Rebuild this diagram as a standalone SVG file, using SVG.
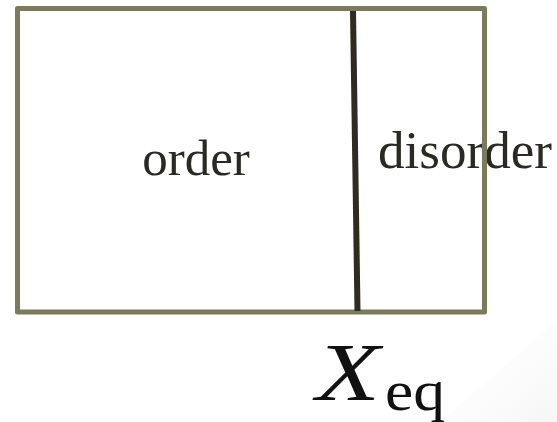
<svg xmlns="http://www.w3.org/2000/svg" width="557" height="422" viewBox="0 0 557 422">
<defs>
<style>
.lbl{font-family:"Liberation Serif","Times New Roman",serif;fill:#2b2a22;}
.frame{fill:none;stroke:#7b7a5a;stroke-width:5;stroke-linejoin:round;}
.divider{stroke:#302b20;stroke-width:6;}
.math{font-family:"Liberation Serif","Times New Roman",serif;fill:#111;}
</style>
<linearGradient id="shade" x1="0" y1="0" x2="1" y2="1">
<stop offset="0" stop-color="#ffffff" stop-opacity="0"/>
<stop offset="1" stop-color="#ececec" stop-opacity="1"/>
</linearGradient>
</defs>
<rect width="557" height="422" fill="#ffffff"/>
<polygon points="557,320 557,422 440,422" fill="url(#shade)" opacity="0.5"/>
<g id="labels">
<text class="lbl" x="196" y="175" font-size="51" text-anchor="middle">order</text>
<text class="lbl" x="378" y="168" font-size="52" textLength="174" lengthAdjust="spacingAndGlyphs">disorder</text>
</g>
<g id="box">
<rect class="frame" x="17.5" y="8.5" width="467" height="303.5"/>
</g>
<g id="connectors">
<line class="divider" x1="353" y1="11" x2="357.5" y2="311"/>
</g>
<g id="xeq">
<text class="math" x="316" y="400" font-size="82" font-style="italic" textLength="64" lengthAdjust="spacingAndGlyphs">X</text>
<text class="math" x="385" y="410" font-size="56" textLength="60" lengthAdjust="spacingAndGlyphs">eq</text>
</g>
</svg>
